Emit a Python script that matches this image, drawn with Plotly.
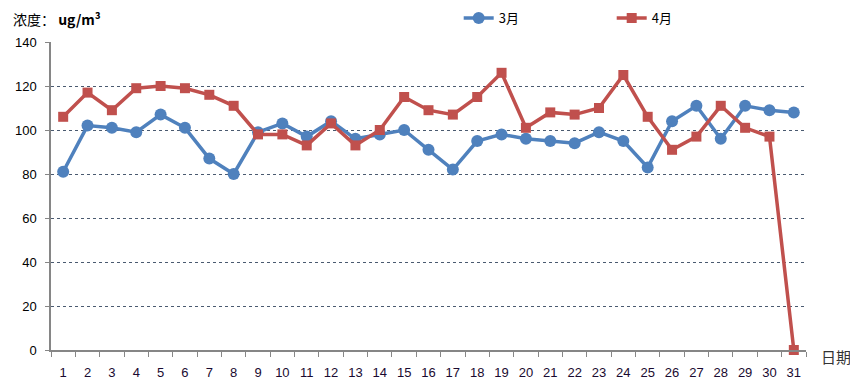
import plotly.graph_objects as go

days = [str(i) for i in range(1, 32)]
march = [81, 102, 101, 99, 107, 101, 87, 80, 99, 103, 97, 104, 96, 98, 100, 91, 82,
         95, 98, 96, 95, 94, 99, 95, 83, 104, 111, 96, 111, 109, 108]
april = [106, 117, 109, 119, 120, 119, 116, 111, 98, 98, 93, 103, 93, 100, 115, 109, 107,
         115, 126, 101, 108, 107, 110, 125, 106, 91, 97, 111, 101, 97, 0]
y_ticks = [0, 20, 40, 60, 80, 100, 120, 140]

fig = go.Figure()
fig.add_trace(go.Scatter(x=days, y=march, name="3月", mode="lines+markers",
                         line=dict(color="#4F81BD", width=3.5),
                         marker=dict(symbol="circle", size=12, color="#4F81BD"),
                         cliponaxis=False))
fig.add_trace(go.Scatter(x=days, y=april, name="4月", mode="lines+markers",
                         line=dict(color="#C0504D", width=3.5),
                         marker=dict(symbol="square", size=10, color="#C0504D"),
                         cliponaxis=False))

fig.update_layout(
    width=850, height=377,
    margin=dict(l=43, r=52, t=34, b=35, autoexpand=False),
    plot_bgcolor="white", paper_bgcolor="white",
    font=dict(family="Liberation Sans, Arial, sans-serif", size=13, color="#000"),
    showlegend=True,
    legend=dict(orientation="h", x=0.540, y=1 - 10 / 377, yref="container",
                xanchor="left", yanchor="middle",
                entrywidth=108, font=dict(size=13, family="Noto Sans CJK SC"),
                bgcolor="rgba(0,0,0,0)"),
    xaxis=dict(type="category", tickson="boundaries", ticks="outside", ticklen=5,
               tickcolor="#868686", showline=True, linecolor="#868686", linewidth=1.5,
               showgrid=False, tickfont=dict(size=13, color="#1a0a30"),
               ticklabelstandoff=10, range=[-0.5, 30.5], automargin=False),
    yaxis=dict(range=[0, 140], tickvals=y_ticks, ticks="outside", ticklen=4,
               tickcolor="#868686", showline=True, linecolor="#868686", linewidth=1.5,
               showgrid=True, gridcolor="#4a5a70", griddash="dot", gridwidth=1,
               zeroline=False, tickfont=dict(size=13), ticklabelstandoff=6,
               automargin=False),
)

fig.add_annotation(text="浓度： <b>ug/m³</b>", xref="paper", yref="paper",
                   x=0, y=1.0, xanchor="left", yanchor="middle", yshift=23,
                   showarrow=False, font=dict(size=14, family="Noto Sans CJK SC", color="#000"),
                   xshift=-40)
fig.add_annotation(text="日期", xref="paper", yref="paper", x=1.0, y=0,
                   xanchor="left", yanchor="middle", xshift=13, yshift=-6,
                   showarrow=False, font=dict(size=15, family="Noto Sans CJK SC", color="#333"))

fig.write_html("out.html")
